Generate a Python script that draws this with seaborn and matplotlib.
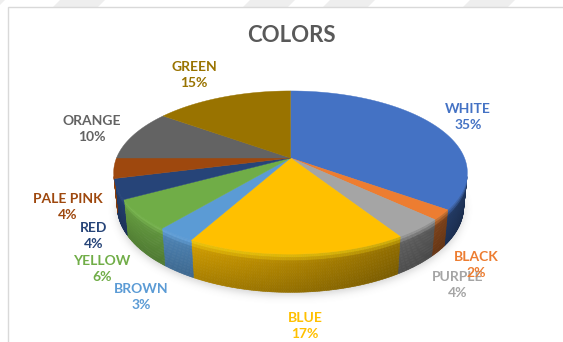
import numpy as np
import matplotlib
matplotlib.use("Agg")
import matplotlib.pyplot as plt
from matplotlib.collections import PolyCollection
from matplotlib.patches import Polygon, Rectangle
from matplotlib.path import Path
from matplotlib.colors import to_rgb
import seaborn as sns

# ---- data -------------------------------------------------------------
categories = ["WHITE", "BLACK", "PURPLE", "BLUE", "BROWN",
              "YELLOW", "RED", "PALE PINK", "ORANGE", "GREEN"]
shares = [35, 2, 4, 17, 3, 6, 4, 4, 10, 15]
slice_colors = ["#4472C4", "#ED7D31", "#A5A5A5", "#FFC000", "#5B9BD5",
                "#70AD47", "#264478", "#9E480E", "#636363", "#997300"]
chart_title = "COLORS"

# ---- label layout (pixel centres of each two-line label) -------------
label_x = [468, 476, 458, 305, 141, 102, 94, 68, 92, 194]
label_y = [117, 265, 285, 326, 297, 269, 236, 207, 129, 75]

sns.set_theme(style="white")
plt.rcParams["font.family"] = ["Lato", "DejaVu Sans"]

W, H = 563, 342
fig = plt.figure(figsize=(W / 100, H / 100), dpi=100)
fig.patch.set_facecolor("white")
ax = fig.add_axes([0, 0, 1, 1])
ax.set_xlim(0, W)
ax.set_ylim(H, 0)
ax.axis("off")

# faint diagonal bands behind the chart area
for x0 in [-40, 60, 250, 330, 470]:
    ax.add_patch(Polygon([(x0, 0), (x0 + 45, 0), (x0 + 5, 40), (x0 - 40, 40)],
                         closed=True, facecolor="#EEEEEE", edgecolor="none", zorder=0))
ax.add_patch(Rectangle((8, 7), W, H, facecolor="white", edgecolor="#D9D9D9",
                       linewidth=1.0, zorder=0.5))

# ---- 3-D pie camera ----------------------------------------------------
CX, CY = 290.5, 158.0
RADIUS_PX = 174.0
TILT = np.radians(27.0)
VIEW_DIST = 5.0
THICKNESS = 0.22


def project(x, y, z):
    up = y * np.sin(TILT) + z * np.cos(TILT)
    depth = y * np.cos(TILT) - z * np.sin(TILT)
    s = VIEW_DIST / (VIEW_DIST + depth)
    return CX + RADIUS_PX * x * s, CY - RADIUS_PX * up * s


def rim(theta, z):
    theta = np.asarray(theta)
    return project(np.sin(theta), np.cos(theta), z)


total = float(sum(shares))
edges = np.concatenate([[0.0], np.cumsum(shares)]) / total * 2 * np.pi

# soft drop shadow under the pie
ring = np.linspace(0, 2 * np.pi, 400)
bx, by = rim(ring, -THICKNESS)
yy, xx = np.mgrid[0:H, 0:W] + 0.5
mask = Path(np.c_[bx, by + 3]).contains_points(
    np.c_[xx.ravel(), yy.ravel()]).reshape(H, W).astype(float)
sig = 4.0
kx = np.arange(-14, 15)
kern = np.exp(-kx ** 2 / (2 * sig ** 2))
kern /= kern.sum()
blur = np.apply_along_axis(lambda r: np.convolve(r, kern, mode="same"), 1, mask)
blur = np.apply_along_axis(lambda c: np.convolve(c, kern, mode="same"), 0, blur)
shadow = np.zeros((H, W, 4))
shadow[..., :3] = 0.5
shadow[..., 3] = 0.35 * blur
ax.imshow(shadow, extent=(0, W, H, 0), zorder=1, interpolation="bilinear")
ax.set_xlim(0, W)
ax.set_ylim(H, 0)
ax.set_aspect("auto")


def side_shade(rgb, theta, t):
    base = np.array(rgb)
    f = (0.72 - 0.24 * np.sin(theta)) * (1.0 - 0.2 * t)
    c = np.clip(base * f, 0, 1)
    glow = 0.55 * np.exp(-((t - 0.06) / 0.08) ** 2)
    bright = np.clip(base * 1.08 + 0.06, 0, 1)
    return c * (1 - glow) + bright * glow


# visible arc of the rim wall
th_lim = np.arccos(-1.0 / (VIEW_DIST * np.cos(TILT)))
vis0, vis1 = th_lim, 2 * np.pi - th_lim

side_polys, side_cols = [], []
n_v = 12
zs = np.linspace(0, -THICKNESS, n_v + 1)
for i, col in enumerate(slice_colors):
    a0, a1 = max(edges[i], vis0), min(edges[i + 1], vis1)
    if a1 <= a0:
        continue
    n_a = max(2, int(np.ceil((a1 - a0) / np.radians(0.5))))
    ths = np.linspace(a0, a1, n_a + 1)
    rgb = to_rgb(col)
    for j in range(n_a):
        for k in range(n_v):
            t0, t1 = ths[j], ths[j + 1]
            p = [rim(t0, zs[k]), rim(t1, zs[k]), rim(t1, zs[k + 1]), rim(t0, zs[k + 1])]
            side_polys.append(p)
            side_cols.append(side_shade(rgb, 0.5 * (t0 + t1), (k + 0.5) / n_v))
ax.add_collection(PolyCollection(side_polys, facecolors=side_cols,
                                 edgecolors=side_cols, linewidths=0.4, zorder=2))

# top faces
for i, col in enumerate(slice_colors):
    ths = np.linspace(edges[i], edges[i + 1], max(3, int(shares[i] * 8)))
    rx, ry = rim(ths, 0.0)
    pts = np.vstack([[CX, CY], np.c_[rx, ry]])
    ax.add_patch(Polygon(pts, closed=True, facecolor=col, edgecolor=col,
                         linewidth=0.3, zorder=3))

# ---- texts -------------------------------------------------------------
ax.text(291, 35, chart_title, ha="center", va="center", fontsize=16,
        fontweight="bold", color="#595959", zorder=5)

order = [i for i in range(len(categories)) if categories[i] != "BLACK"] + \
        [categories.index("BLACK")]
for i in order:
    ax.text(label_x[i], label_y[i], f"{categories[i]}\n{shares[i]}%",
            ha="center", va="center", fontsize=10, fontweight="bold",
            color=slice_colors[i], linespacing=1.45, zorder=6)

fig.savefig("out.png", dpi=100, facecolor=fig.get_facecolor())
